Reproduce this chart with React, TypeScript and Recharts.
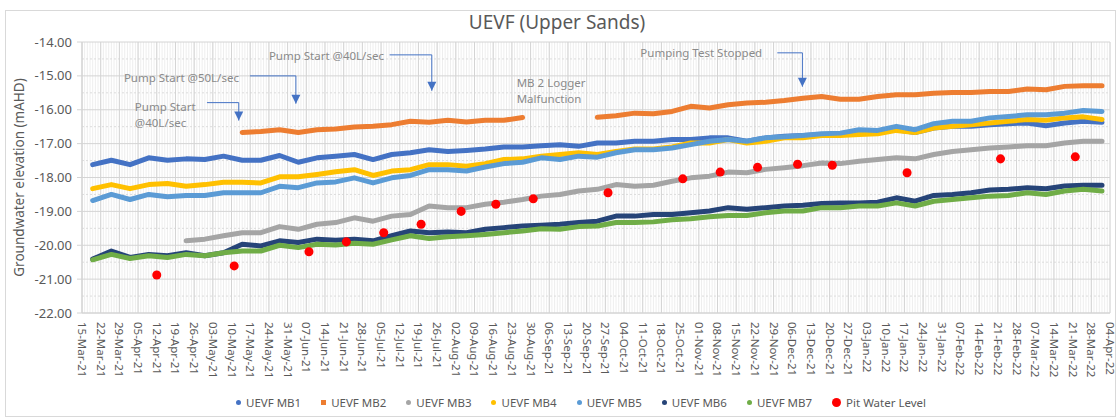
import React from "react";
import {
  ComposedChart,
  Line,
  Scatter,
  XAxis,
  YAxis,
  CartesianGrid,
  ReferenceLine,
  ReferenceDot,
} from "recharts";

const FONT = '"Noto Sans", "Liberation Sans", sans-serif';
const TEXT = "#595959";
const START = Date.UTC(2021, 2, 15);
const DAY = 86400000;
const MONTHS = ["Jan", "Feb", "Mar", "Apr", "May", "Jun", "Jul", "Aug", "Sep", "Oct", "Nov", "Dec"];

// weekly readings taken off the logger plots
const sampleDates = [
  "2021-03-19", "2021-03-26", "2021-04-02", "2021-04-09", "2021-04-16", "2021-04-23", "2021-04-30",
  "2021-05-07", "2021-05-14", "2021-05-21", "2021-05-28", "2021-06-04", "2021-06-11", "2021-06-18",
  "2021-06-25", "2021-07-02", "2021-07-09", "2021-07-16", "2021-07-23", "2021-07-30", "2021-08-06",
  "2021-08-13", "2021-08-20", "2021-08-27", "2021-09-03", "2021-09-10", "2021-09-17", "2021-09-24",
  "2021-10-01", "2021-10-08", "2021-10-15", "2021-10-22", "2021-10-29", "2021-11-05", "2021-11-12",
  "2021-11-19", "2021-11-26", "2021-12-03", "2021-12-10", "2021-12-17", "2021-12-24", "2021-12-31",
  "2022-01-07", "2022-01-14", "2022-01-21", "2022-01-28", "2022-02-04", "2022-02-11", "2022-02-18",
  "2022-02-25", "2022-03-04", "2022-03-11", "2022-03-18", "2022-03-25", "2022-04-01",
];

const mb1 = [
  -17.62, -17.49, -17.62, -17.42, -17.49, -17.45, -17.47, -17.37, -17.49, -17.49, -17.35, -17.55, -17.42, -17.37,
  -17.32, -17.47, -17.32, -17.27, -17.18, -17.23, -17.2, -17.16, -17.1, -17.1, -17.06, -17.03, -17.08, -16.98,
  -16.98, -16.93, -16.93, -16.88, -16.88, -16.83, -16.83, -16.93, -16.83, -16.78, -16.76, -16.73, -16.73, -16.64,
  -16.67, -16.59, -16.67, -16.54, -16.49, -16.49, -16.44, -16.41, -16.39, -16.47, -16.39, -16.34, -16.37,
];
const mb2 = [
  null, null, null, null, null, null, null, null, -16.67, -16.64, -16.59, -16.67, -16.59, -16.57,
  -16.51, -16.49, -16.44, -16.34, -16.37, -16.31, -16.36, -16.31, -16.31, -16.23, null, null, null, -16.22,
  -16.18, -16.1, -16.12, -16.05, -15.9, -15.95, -15.85, -15.8, -15.78, -15.73, -15.66, -15.61, -15.69, -15.69,
  -15.61, -15.56, -15.56, -15.51, -15.49, -15.49, -15.46, -15.46, -15.39, -15.41, -15.31, -15.29, -15.29,
];
const mb3 = [
  null, null, null, null, null, -19.87, -19.82, -19.72, -19.63, -19.63, -19.45, -19.53, -19.38, -19.33,
  -19.19, -19.29, -19.14, -19.09, -18.84, -18.89, -18.89, -18.79, -18.73, -18.65, -18.55, -18.5, -18.4, -18.35,
  -18.21, -18.26, -18.23, -18.11, -18.01, -17.96, -17.84, -17.86, -17.76, -17.71, -17.65, -17.57, -17.59, -17.52,
  -17.47, -17.42, -17.45, -17.32, -17.23, -17.18, -17.13, -17.1, -17.06, -17.06, -16.98, -16.93, -16.93,
];
const mb4 = [
  -18.33, -18.21, -18.33, -18.21, -18.18, -18.26, -18.21, -18.14, -18.14, -18.16, -17.98, -17.98, -17.91, -17.83,
  -17.77, -17.94, -17.81, -17.77, -17.62, -17.62, -17.67, -17.59, -17.47, -17.45, -17.37, -17.32, -17.27, -17.32,
  -17.23, -17.16, -17.16, -17.1, -16.98, -16.98, -16.88, -16.98, -16.93, -16.83, -16.83, -16.76, -16.76, -16.73,
  -16.71, -16.61, -16.67, -16.54, -16.49, -16.44, -16.39, -16.34, -16.29, -16.31, -16.24, -16.21, -16.29,
];
const mb5 = [
  -18.68, -18.5, -18.65, -18.5, -18.57, -18.53, -18.53, -18.45, -18.45, -18.45, -18.26, -18.3, -18.16, -18.13,
  -18.01, -18.16, -18.01, -17.94, -17.77, -17.77, -17.81, -17.69, -17.59, -17.55, -17.42, -17.47, -17.37, -17.4,
  -17.27, -17.18, -17.18, -17.13, -17.03, -16.93, -16.88, -16.93, -16.83, -16.8, -16.76, -16.71, -16.69, -16.59,
  -16.61, -16.49, -16.59, -16.41, -16.34, -16.34, -16.24, -16.2, -16.15, -16.15, -16.1, -16.02, -16.05,
];
const mb6 = [
  -20.41, -20.17, -20.36, -20.27, -20.31, -20.22, -20.31, -20.22, -19.97, -20.02, -19.87, -19.92, -19.82, -19.85,
  -19.82, -19.87, -19.72, -19.58, -19.63, -19.61, -19.63, -19.53, -19.48, -19.43, -19.41, -19.38, -19.33, -19.29,
  -19.14, -19.14, -19.09, -19.09, -19.04, -18.99, -18.89, -18.94, -18.89, -18.84, -18.82, -18.77, -18.75, -18.75,
  -18.73, -18.6, -18.7, -18.53, -18.5, -18.45, -18.37, -18.35, -18.3, -18.33, -18.25, -18.23, -18.23,
];
const mb7 = [
  -20.43, -20.27, -20.39, -20.31, -20.36, -20.27, -20.31, -20.22, -20.17, -20.17, -20.0, -20.07, -19.97, -19.99,
  -19.94, -19.97, -19.84, -19.72, -19.8, -19.75, -19.72, -19.68, -19.63, -19.58, -19.51, -19.53, -19.45, -19.43,
  -19.33, -19.33, -19.31, -19.25, -19.22, -19.16, -19.12, -19.12, -19.04, -18.99, -18.99, -18.89, -18.89, -18.84,
  -18.84, -18.75, -18.84, -18.7, -18.65, -18.6, -18.55, -18.53, -18.45, -18.5, -18.4, -18.35, -18.4,
];

const pitDates = [
  "2021-04-12", "2021-05-11", "2021-06-08", "2021-06-22", "2021-07-06", "2021-07-20", "2021-08-04",
  "2021-08-17", "2021-08-31", "2021-09-28", "2021-10-26", "2021-11-09", "2021-11-23", "2021-12-08",
  "2021-12-21", "2022-01-18", "2022-02-22", "2022-03-22",
];
const pitLevels = [
  -20.88, -20.61, -20.19, -19.9, -19.63, -19.38, -19.0, -18.79, -18.63, -18.45, -18.04, -17.84, -17.7,
  -17.61, -17.64, -17.86, -17.45, -17.39,
];

const levelTicks = [-22, -21, -20, -19, -18, -17, -16, -15, -14];
const halfLevels = [-21.5, -20.5, -19.5, -18.5, -17.5, -16.5, -15.5, -14.5];
const weekTicks = Array.from({ length: 56 }, (_, i) => i * 7);
const dayTicks = Array.from({ length: 386 }, (_, i) => i);

const series = [
  { key: "mb1", name: "UEVF MB1", color: "#4472C4", values: mb1 },
  { key: "mb2", name: "UEVF MB2", color: "#ED7D31", values: mb2 },
  { key: "mb3", name: "UEVF MB3", color: "#A5A5A5", values: mb3 },
  { key: "mb4", name: "UEVF MB4", color: "#FFC000", values: mb4 },
  { key: "mb5", name: "UEVF MB5", color: "#5B9BD5", values: mb5 },
  { key: "mb6", name: "UEVF MB6", color: "#264478", values: mb6 },
  { key: "mb7", name: "UEVF MB7", color: "#70AD47", values: mb7 },
];

// callouts: text anchor [day, level] and elbow arrow path ending at the tip
const annotations = [
  { lines: ["Pump Start", "@40L/sec"], at: [19.8, -16.03], path: [[46.8, -15.79], [58.7, -15.79], [58.7, -16.32]] },
  { lines: ["Pump Start @50L/sec"], at: [15.7, -15.18], path: [[62.9, -15.0], [80.1, -15.0], [80.1, -15.82]] },
  { lines: ["Pump Start @40L/sec"], at: [70.0, -14.53], path: [[115.2, -14.38], [131.0, -14.38], [131.0, -15.44]] },
  { lines: ["MB 2 Logger", "Malfunction"], at: [162.8, -15.32], path: [] as number[][] },
  { lines: ["Pumping Test Stopped"], at: [209.1, -14.44], path: [[260.4, -14.32], [269.8, -14.32], [269.8, -15.32]] },
];

const toDay = (iso: string) => Math.round((Date.parse(iso) - START) / DAY);

const fmtDate = (day: number) => {
  const d = new Date(START + day * DAY);
  const dd = String(d.getUTCDate()).padStart(2, "0");
  const yy = String(d.getUTCFullYear()).slice(2);
  return `${dd}-${MONTHS[d.getUTCMonth()]}-${yy}`;
};

const data = sampleDates.map((iso, i) => {
  const row: Record<string, number | null> = { day: toDay(iso) };
  series.forEach((s) => {
    row[s.key] = s.values[i];
  });
  return row;
});

const pitData = pitDates.map((iso, i) => ({ day: toDay(iso), level: pitLevels[i] }));

const DateTick = ({ x, y, payload }: any) => (
  <text
    x={x}
    y={y}
    dy="0.35em"
    transform={`rotate(90, ${x}, ${y})`}
    textAnchor="start"
    fill={TEXT}
    fontSize={11.5}
    fontFamily={FONT}
  >
    {fmtDate(payload.value)}
  </text>
);

const YTitle = ({ viewBox }: any) => {
  const cx = viewBox.x + 19;
  const cy = viewBox.y + viewBox.height / 2;
  return (
    <text
      x={cx}
      y={cy}
      transform={`rotate(-90, ${cx}, ${cy})`}
      textAnchor="middle"
      dominantBaseline="central"
      fill={TEXT}
      fontSize={13.5}
      fontFamily={FONT}
    >
      Groundwater elevation (mAHD)
    </text>
  );
};

const calloutText = (lines: string[]) => (props: any) => (
  <text x={props.cx} y={props.cy} fill="#8a8a8a" fontSize={11.5} fontFamily={FONT}>
    {lines.map((l, i) => (
      <tspan key={i} x={props.cx} dy={i === 0 ? 0 : 16}>
        {l}
      </tspan>
    ))}
  </text>
);

const arrowHead = (props: any) => (
  <polygon
    points={`${props.cx - 4.5},${props.cy - 9} ${props.cx + 4.5},${props.cy - 9} ${props.cx},${props.cy}`}
    fill="#4472C4"
  />
);

export default function App() {
  const callouts: React.ReactNode[] = [];
  annotations.forEach((a, i) => {
    callouts.push(
      <ReferenceDot key={`t${i}`} x={a.at[0]} y={a.at[1]} r={0} shape={calloutText(a.lines)} />
    );
    for (let j = 0; j + 1 < a.path.length; j++) {
      const p = a.path[j];
      const q = a.path[j + 1];
      callouts.push(
        <ReferenceLine
          key={`l${i}-${j}`}
          segment={[{ x: p[0], y: p[1] }, { x: q[0], y: q[1] }]}
          stroke="#4472C4"
          strokeWidth={1}
        />
      );
    }
    if (a.path.length) {
      const tip = a.path[a.path.length - 1];
      callouts.push(<ReferenceDot key={`a${i}`} x={tip[0]} y={tip[1]} r={0} shape={arrowHead} />);
    }
  });

  return (
    <div
      style={{
        position: "absolute",
        left: 0,
        top: 0,
        width: 1120,
        height: 420,
        background: "#fff",
        fontFamily: FONT,
      }}
    >
      <div
        style={{
          position: "absolute",
          left: 5,
          top: 10,
          width: 1109,
          height: 405,
          border: "1px solid #d9d9d9",
        }}
      />
      <div
        style={{
          position: "absolute",
          left: 0,
          top: 9,
          width: 1114,
          textAlign: "center",
          fontSize: 19,
          color: TEXT,
          lineHeight: "26px",
        }}
      >
        UEVF (Upper Sands)
      </div>
      <div style={{ position: "absolute", left: 0, top: 0 }}>
        <ComposedChart
          width={1120}
          height={420}
          data={data}
          margin={{ top: 42, right: 10, bottom: 0, left: 0 }}
        >
          <CartesianGrid horizontal={false} verticalValues={dayTicks} stroke="#eeeeee" />
          <CartesianGrid vertical={false} horizontalValues={halfLevels} stroke="#dcdcdc" strokeDasharray="2 2" />
          <CartesianGrid stroke="#d4d4d4" />
          <XAxis
            type="number"
            dataKey="day"
            domain={[0, 385]}
            ticks={weekTicks}
            interval={0}
            tick={<DateTick />}
            tickLine={false}
            tickSize={0}
            tickMargin={9}
            height={107}
            axisLine={{ stroke: "#d4d4d4" }}
          />
          <YAxis
            type="number"
            domain={[-22, -14]}
            ticks={levelTicks}
            interval={0}
            width={82}
            tickSize={5}
            tickMargin={5}
            tickFormatter={(v: number) => v.toFixed(2)}
            tick={{ fill: TEXT, fontSize: 13, fontFamily: FONT }}
            tickLine={{ stroke: "#d4d4d4" }}
            axisLine={{ stroke: "#d4d4d4" }}
            label={{ content: YTitle }}
          />
          {series.map((s) => (
            <Line
              key={s.key}
              type="linear"
              dataKey={s.key}
              name={s.name}
              stroke={s.color}
              strokeWidth={5}
              strokeLinejoin="round"
              strokeLinecap="round"
              dot={false}
              activeDot={false}
              isAnimationActive={false}
            />
          ))}
          <Scatter
            name="Pit Water Level"
            data={pitData}
            dataKey="level"
            fill="#FF0000"
            isAnimationActive={false}
          />
          {callouts}
        </ComposedChart>
      </div>
      <div
        style={{
          position: "absolute",
          left: 236,
          top: 395,
          display: "flex",
          alignItems: "center",
          gap: 20,
          fontSize: 11.5,
          color: TEXT,
          whiteSpace: "nowrap",
        }}
      >
        {series.map((s) => (
          <div key={s.key} style={{ display: "flex", alignItems: "center", gap: 5 }}>
            <span
              style={{
                width: 5,
                height: 5,
                background: s.color,
                borderRadius: s.key === "mb2" ? 0 : "50%",
                display: "inline-block",
              }}
            />
            <span>{s.name}</span>
          </div>
        ))}
        <div style={{ display: "flex", alignItems: "center", gap: 5 }}>
          <span
            style={{ width: 9, height: 9, background: "#FF0000", borderRadius: "50%", display: "inline-block" }}
          />
          <span>Pit Water Level</span>
        </div>
      </div>
    </div>
  );
}
